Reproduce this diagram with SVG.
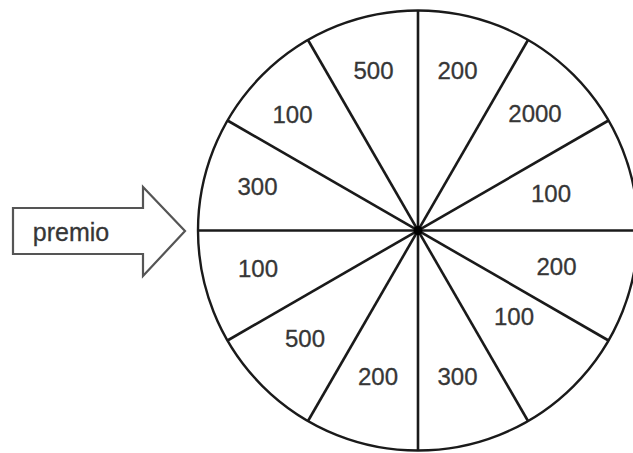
<svg xmlns="http://www.w3.org/2000/svg" width="633" height="453" viewBox="0 0 633 453">
<style>
.lbl{font-family:"Liberation Sans",Arial,sans-serif;font-size:24px;fill:#363636;text-anchor:middle;stroke:#363636;stroke-width:0.3}
.spoke{stroke:#1a1a1a;stroke-width:2.6;fill:none}
</style>
<rect width="633" height="453" fill="#ffffff"/>
<g id="arrow">
<polygon points="13,208 143,208 143,187 185,231 143,276 143,254 13,254" fill="#ffffff" stroke="#555555" stroke-width="2.2" stroke-linejoin="miter"/>
<text x="71" y="241" class="lbl" style="font-size:25px">premio</text>
</g>
<g id="wheel">
<circle cx="418" cy="230.5" r="220" fill="#ffffff" stroke="#1a1a1a" stroke-width="2.4"/>
</g>
<g id="connectors">
<line class="spoke" x1="198" y1="230.5" x2="638" y2="230.5"/>
<line class="spoke" x1="227.5" y1="120.5" x2="608.5" y2="340.5"/>
<line class="spoke" x1="308" y1="40" x2="528" y2="421"/>
<line class="spoke" x1="418" y1="10.5" x2="418" y2="450.5"/>
<line class="spoke" x1="528" y1="40" x2="308" y2="421"/>
<line class="spoke" x1="608.5" y1="120.5" x2="227.5" y2="340.5"/>
<circle cx="418" cy="230.5" r="4.5" fill="#000000"/>
</g>
<g id="labels">
<text class="lbl" x="373.5" y="79">500</text>
<text class="lbl" x="457.5" y="79">200</text>
<text class="lbl" x="292.5" y="123">100</text>
<text class="lbl" x="535" y="122">2000</text>
<text class="lbl" x="257.5" y="195">300</text>
<text class="lbl" x="551" y="202">100</text>
<text class="lbl" x="258" y="277">100</text>
<text class="lbl" x="556.5" y="275">200</text>
<text class="lbl" x="305" y="347">500</text>
<text class="lbl" x="514" y="325">100</text>
<text class="lbl" x="378" y="385">200</text>
<text class="lbl" x="457.5" y="385">300</text>
</g>
</svg>
